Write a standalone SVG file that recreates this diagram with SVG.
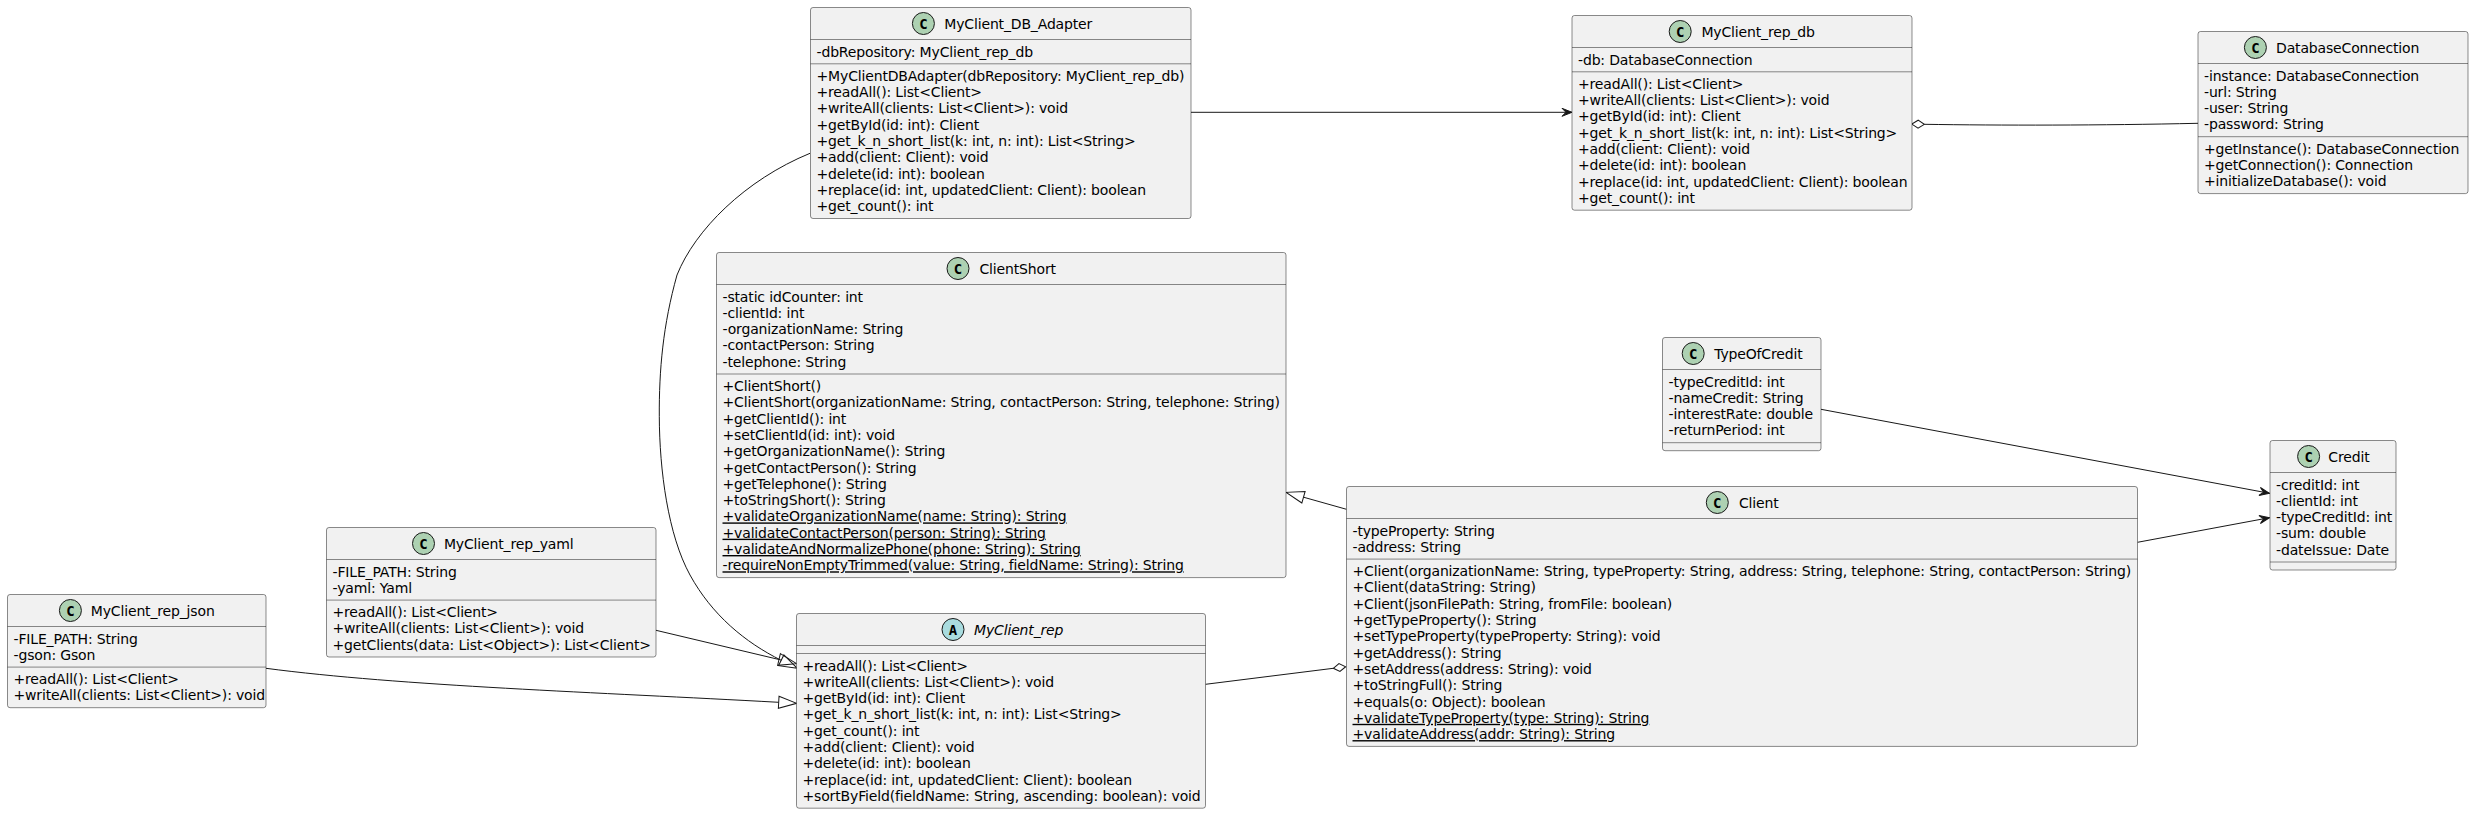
<svg xmlns="http://www.w3.org/2000/svg" width="2474" height="813" viewBox="0 0 2474 813">
<style>
text{font-family:"DejaVu Sans",sans-serif;font-size:14px;fill:#000;letter-spacing:-.155px}
.box{fill:#F1F1F1;stroke:#181818;stroke-width:.5}
.sep{stroke:#181818;stroke-width:.5}
.c{fill:#ADD1B2;stroke:#181818;stroke-width:1}
.a{fill:#A9DCDF;stroke:#181818;stroke-width:1}
.ic{font-family:"DejaVu Sans Mono",monospace;font-weight:700;text-anchor:middle;letter-spacing:0}
.it{font-style:italic}
.u{text-decoration:underline}
.e{fill:none;stroke:#181818;stroke-width:1}
</style>
<defs>
<marker id="tri" markerUnits="userSpaceOnUse" markerWidth="24" markerHeight="16" refX="0" refY="8" orient="auto" overflow="visible"><path d="M0,2 L18,8 L0,14 Z" fill="none" stroke="#181818"/></marker>
<marker id="arr" markerUnits="userSpaceOnUse" markerWidth="12" markerHeight="10" refX="11" refY="5" orient="auto" overflow="visible"><path d="M11,5 L1,1 L5,5 L1,9 Z" fill="#181818" stroke="#181818"/></marker>
<marker id="dia" markerUnits="userSpaceOnUse" markerWidth="14" markerHeight="10" refX="0" refY="5" orient="auto" overflow="visible"><path d="M0,5 L6.2,1 L12.5,5 L6.2,9 Z" fill="#FFFFFF" stroke="#181818"/></marker>
</defs>
<g id="connectors">
<path class="e" marker-end="url(#tri)" d="M656,630.3 L779,659.5"/>
<path class="e" marker-end="url(#tri)" d="M810,153.3 C745,180 695,230 677,275 C663,325 659,370 659.3,416.7 C659.5,470 668,535 690,575 C712,615 745,642.3 781.2,660.3"/>
<path class="e" marker-end="url(#tri)" d="M266,668.3 C400,686 600,692.4 778.7,702.3"/>
<path class="e" marker-end="url(#dia)" d="M1205.5,684.3 L1333.3,668.3"/>
<path class="e" marker-end="url(#tri)" d="M1346.5,509.3 L1303.5,497.2"/>
<path class="e" marker-end="url(#arr)" d="M1191,112.3 L1572,112.3"/>
<path class="e" marker-end="url(#dia)" d="M2198,123.3 C2100,125.5 2000,125.5 1924.3,124.3"/>
<path class="e" marker-end="url(#arr)" d="M1821,409.3 L2269.5,493.3"/>
<path class="e" marker-end="url(#arr)" d="M2137.5,542.3 L2269.5,517.7"/>
</g>
<g id="MyClient_rep_json" transform="translate(7.5,594.5)">
<rect class="box" width="258.5" height="113.2" rx="2.5"/>
<ellipse class="c" cx="62.9" cy="16" rx="11" ry="11"/><text class="ic" x="62.9" y="21">C</text>
<text x="83.3" y="21">MyClient_rep_json</text>
<line class="sep" x1="0" y1="32" x2="258.5" y2="32"/><line class="sep" x1="0" y1="72.6" x2="258.5" y2="72.6"/>
<text x="6" y="49">-FILE_PATH: String</text>
<text x="6" y="65.3">-gson: Gson</text>
<text x="6" y="89.6">+readAll(): List&lt;Client&gt;</text>
<text x="6" y="105.9">+writeAll(clients: List&lt;Client&gt;): void</text>
</g>
<g id="MyClient_rep_yaml" transform="translate(326.5,527.5)">
<rect class="box" width="329.5" height="129.5" rx="2.5"/>
<ellipse class="c" cx="97" cy="16" rx="11" ry="11"/><text class="ic" x="97" y="21">C</text>
<text x="117.4" y="21">MyClient_rep_yaml</text>
<line class="sep" x1="0" y1="32" x2="329.5" y2="32"/><line class="sep" x1="0" y1="72.6" x2="329.5" y2="72.6"/>
<text x="6" y="49">-FILE_PATH: String</text>
<text x="6" y="65.3">-yaml: Yaml</text>
<text x="6" y="89.6">+readAll(): List&lt;Client&gt;</text>
<text x="6" y="105.9">+writeAll(clients: List&lt;Client&gt;): void</text>
<text x="6" y="122.2">+getClients(data: List&lt;Object&gt;): List&lt;Client&gt;</text>
</g>
<g id="MyClient_DB_Adapter" transform="translate(810.5,7.5)">
<rect class="box" width="380.5" height="211" rx="2.5"/>
<ellipse class="c" cx="112.9" cy="16" rx="11" ry="11"/><text class="ic" x="112.9" y="21">C</text>
<text x="133.8" y="21">MyClient_DB_Adapter</text>
<line class="sep" x1="0" y1="32" x2="380.5" y2="32"/><line class="sep" x1="0" y1="56.3" x2="380.5" y2="56.3"/>
<text x="6" y="49">-dbRepository: MyClient_rep_db</text>
<text x="6" y="73.3">+MyClientDBAdapter(dbRepository: MyClient_rep_db)</text>
<text x="6" y="89.6">+readAll(): List&lt;Client&gt;</text>
<text x="6" y="105.9">+writeAll(clients: List&lt;Client&gt;): void</text>
<text x="6" y="122.2">+getById(id: int): Client</text>
<text x="6" y="138.5">+get_k_n_short_list(k: int, n: int): List&lt;String&gt;</text>
<text x="6" y="154.8">+add(client: Client): void</text>
<text x="6" y="171.1">+delete(id: int): boolean</text>
<text x="6" y="187.4">+replace(id: int, updatedClient: Client): boolean</text>
<text x="6" y="203.7">+get_count(): int</text>
</g>
<g id="MyClient_rep_db" transform="translate(1572,15.5)">
<rect class="box" width="340" height="194.7" rx="2.5"/>
<ellipse class="c" cx="108.2" cy="16" rx="11" ry="11"/><text class="ic" x="108.2" y="21">C</text>
<text x="129.4" y="21">MyClient_rep_db</text>
<line class="sep" x1="0" y1="32" x2="340" y2="32"/><line class="sep" x1="0" y1="56.3" x2="340" y2="56.3"/>
<text x="6" y="49">-db: DatabaseConnection</text>
<text x="6" y="73.3">+readAll(): List&lt;Client&gt;</text>
<text x="6" y="89.6">+writeAll(clients: List&lt;Client&gt;): void</text>
<text x="6" y="105.9">+getById(id: int): Client</text>
<text x="6" y="122.2">+get_k_n_short_list(k: int, n: int): List&lt;String&gt;</text>
<text x="6" y="138.5">+add(client: Client): void</text>
<text x="6" y="154.8">+delete(id: int): boolean</text>
<text x="6" y="171.1">+replace(id: int, updatedClient: Client): boolean</text>
<text x="6" y="187.4">+get_count(): int</text>
</g>
<g id="DatabaseConnection" transform="translate(2198,31.5)">
<rect class="box" width="270" height="162.1" rx="2.5"/>
<ellipse class="c" cx="57.4" cy="16" rx="11" ry="11"/><text class="ic" x="57.4" y="21">C</text>
<text x="78" y="21">DatabaseConnection</text>
<line class="sep" x1="0" y1="32" x2="270" y2="32"/><line class="sep" x1="0" y1="105.2" x2="270" y2="105.2"/>
<text x="6" y="49">-instance: DatabaseConnection</text>
<text x="6" y="65.3">-url: String</text>
<text x="6" y="81.6">-user: String</text>
<text x="6" y="97.9">-password: String</text>
<text x="6" y="122.2">+getInstance(): DatabaseConnection</text>
<text x="6" y="138.5">+getConnection(): Connection</text>
<text x="6" y="154.8">+initializeDatabase(): void</text>
</g>
<g id="ClientShort" transform="translate(716.5,252.5)">
<rect class="box" width="569.5" height="325.1" rx="2.5"/>
<ellipse class="c" cx="241.5" cy="16" rx="11" ry="11"/><text class="ic" x="241.5" y="21">C</text>
<text x="263" y="21">ClientShort</text>
<line class="sep" x1="0" y1="32" x2="569.5" y2="32"/><line class="sep" x1="0" y1="121.5" x2="569.5" y2="121.5"/>
<text x="6" y="49">-static idCounter: int</text>
<text x="6" y="65.3">-clientId: int</text>
<text x="6" y="81.6">-organizationName: String</text>
<text x="6" y="97.9">-contactPerson: String</text>
<text x="6" y="114.2">-telephone: String</text>
<text x="6" y="138.5">+ClientShort()</text>
<text x="6" y="154.8">+ClientShort(organizationName: String, contactPerson: String, telephone: String)</text>
<text x="6" y="171.1">+getClientId(): int</text>
<text x="6" y="187.4">+setClientId(id: int): void</text>
<text x="6" y="203.7">+getOrganizationName(): String</text>
<text x="6" y="220">+getContactPerson(): String</text>
<text x="6" y="236.3">+getTelephone(): String</text>
<text x="6" y="252.6">+toStringShort(): String</text>
<text class="u" x="6" y="268.9">+validateOrganizationName(name: String): String</text>
<text class="u" x="6" y="285.2">+validateContactPerson(person: String): String</text>
<text class="u" x="6" y="301.5">+validateAndNormalizePhone(phone: String): String</text>
<text class="u" x="6" y="317.8">-requireNonEmptyTrimmed(value: String, fieldName: String): String</text>
</g>
<g id="MyClient_rep" transform="translate(796.5,613.5)">
<rect class="box" width="409" height="194.7" rx="2.5"/>
<ellipse class="a" cx="156.5" cy="16" rx="11" ry="11"/><text class="ic" x="156.5" y="21">A</text>
<text class="it" x="177.5" y="21">MyClient_rep</text>
<line class="sep" x1="0" y1="32" x2="409" y2="32"/><line class="sep" x1="0" y1="40" x2="409" y2="40"/>
<text x="6" y="57">+readAll(): List&lt;Client&gt;</text>
<text x="6" y="73.3">+writeAll(clients: List&lt;Client&gt;): void</text>
<text x="6" y="89.6">+getById(id: int): Client</text>
<text x="6" y="105.9">+get_k_n_short_list(k: int, n: int): List&lt;String&gt;</text>
<text x="6" y="122.2">+get_count(): int</text>
<text x="6" y="138.5">+add(client: Client): void</text>
<text x="6" y="154.8">+delete(id: int): boolean</text>
<text x="6" y="171.1">+replace(id: int, updatedClient: Client): boolean</text>
<text x="6" y="187.4">+sortByField(fieldName: String, ascending: boolean): void</text>
</g>
<g id="Client" transform="translate(1346.5,486.5)">
<rect class="box" width="791" height="259.9" rx="2.5"/>
<ellipse class="c" cx="370.8" cy="16" rx="11" ry="11"/><text class="ic" x="370.8" y="21">C</text>
<text x="392.5" y="21">Client</text>
<line class="sep" x1="0" y1="32" x2="791" y2="32"/><line class="sep" x1="0" y1="72.6" x2="791" y2="72.6"/>
<text x="6" y="49">-typeProperty: String</text>
<text x="6" y="65.3">-address: String</text>
<text x="6" y="89.6">+Client(organizationName: String, typeProperty: String, address: String, telephone: String, contactPerson: String)</text>
<text x="6" y="105.9">+Client(dataString: String)</text>
<text x="6" y="122.2">+Client(jsonFilePath: String, fromFile: boolean)</text>
<text x="6" y="138.5">+getTypeProperty(): String</text>
<text x="6" y="154.8">+setTypeProperty(typeProperty: String): void</text>
<text x="6" y="171.1">+getAddress(): String</text>
<text x="6" y="187.4">+setAddress(address: String): void</text>
<text x="6" y="203.7">+toStringFull(): String</text>
<text x="6" y="220">+equals(o: Object): boolean</text>
<text class="u" x="6" y="236.3">+validateTypeProperty(type: String): String</text>
<text class="u" x="6" y="252.6">+validateAddress(addr: String): String</text>
</g>
<g id="TypeOfCredit" transform="translate(1662.5,337.5)">
<rect class="box" width="158.5" height="113.2" rx="2.5"/>
<ellipse class="c" cx="30.7" cy="16" rx="11" ry="11"/><text class="ic" x="30.7" y="21">C</text>
<text x="51.7" y="21">TypeOfCredit</text>
<line class="sep" x1="0" y1="32" x2="158.5" y2="32"/><line class="sep" x1="0" y1="105.2" x2="158.5" y2="105.2"/>
<text x="6" y="49">-typeCreditId: int</text>
<text x="6" y="65.3">-nameCredit: String</text>
<text x="6" y="81.6">-interestRate: double</text>
<text x="6" y="97.9">-returnPeriod: int</text>
</g>
<g id="Credit" transform="translate(2270,440.5)">
<rect class="box" width="126" height="129.5" rx="2.5"/>
<ellipse class="c" cx="38.6" cy="16" rx="11" ry="11"/><text class="ic" x="38.6" y="21">C</text>
<text x="58.3" y="21">Credit</text>
<line class="sep" x1="0" y1="32" x2="126" y2="32"/><line class="sep" x1="0" y1="121.5" x2="126" y2="121.5"/>
<text x="6" y="49">-creditId: int</text>
<text x="6" y="65.3">-clientId: int</text>
<text x="6" y="81.6">-typeCreditId: int</text>
<text x="6" y="97.9">-sum: double</text>
<text x="6" y="114.2">-dateIssue: Date</text>
</g>
</svg>
